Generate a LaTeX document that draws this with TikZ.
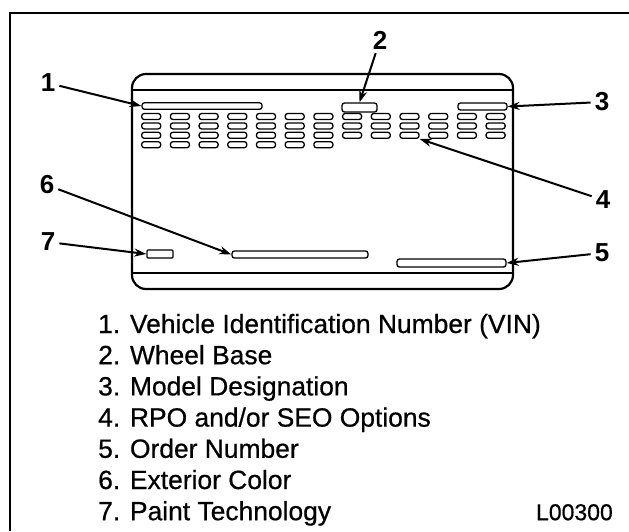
\documentclass[tikz,border=0pt]{standalone}
\usepackage{fontspec}
\setmainfont{Liberation Sans}
\usetikzlibrary{arrows.meta}
\begin{document}
\begin{tikzpicture}[x=1pt,y=-1pt,
  slot/.style={draw, line width=1.3pt, rounded corners=2.5pt, inner sep=0pt, minimum width=#1, minimum height=6.5pt},
  opt/.style={draw, line width=1.3pt, rounded corners=2.5pt, inner sep=0pt, minimum width=19pt, minimum height=6pt},
  callout/.style={font=\fontsize{26}{26}\selectfont\bfseries, inner sep=1pt},
  arr/.style={line width=2pt, -{Stealth[length=12pt,width=8pt]}, shorten <=3pt},
  legend/.style={font=\fontsize{26.4}{26.4}\selectfont\addfontfeature{FakeBold=0.6}, anchor=base west, inner sep=0pt}]
\useasboundingbox (0,0) rectangle (629,531);
% frame
\draw[line width=2.2pt] (10,531) -- (10,13) -- (629,13);
% card
\draw[line width=2.2pt, rounded corners=14pt] (132,74) rectangle (513,289);
\draw[line width=1.8pt] (132,90) -- (513,90);
\draw[line width=1.8pt] (132,273) -- (513,273);
% fields
\node[slot=120pt] (vin) at (202,106) {};
\node[slot=35pt, minimum height=9pt] (wb) at (359.5,107.5) {};
\node[slot=49pt, minimum height=7pt] (model) at (482.5,106.5) {};
\node[slot=136pt, minimum height=7pt] (color) at (300,254.5) {};
\node[slot=109pt, minimum height=8pt] (order) at (451.5,263) {};
\node[slot=26pt, minimum height=8pt, rounded corners=1pt] (paint) at (160,254) {};
% option slots
\foreach \i in {0,...,12}{
  \pgfmathtruncatemacro{\nr}{\i<7 ? 3 : 2}
  \foreach \j in {0,...,\nr}{
    \node[opt] (o-\i-\j) at ({151.2+28.7*\i},{116.5+9.4*\j}) {};
  }
}
% callouts
\node[callout] (l1) at (48,83) {1};
\node[callout] (l2) at (380,40) {2};
\node[callout] (l3) at (602,102) {3};
\node[callout] (l4) at (603,200) {4};
\node[callout] (l5) at (602,253) {5};
\node[callout] (l6) at (47,185) {6};
\node[callout] (l7) at (48,242) {7};
\draw[arr] (l1) -- (vin.west);
\draw[arr] (l2) -- (wb.north);
\draw[arr] (l3) -- (model.east);
\draw[arr] (l4) -- (o-9-2.south east);
\draw[arr] (l5) -- (order.east);
\draw[arr] (l6) -- (color.west);
\draw[arr] (l7) -- (paint.west);
% legend
\node[legend] (t1) at (98,333) {1. Vehicle Identification Number (VIN)};
\node[legend] (t2) at (98,364.2) {2. Wheel Base};
\node[legend] (t3) at (98,395.4) {3. Model Designation};
\node[legend] (t4) at (98,426.6) {4. RPO and/or SEO Options};
\node[legend] (t5) at (98,457.8) {5. Order Number};
\node[legend] (t6) at (98,489) {6. Exterior Color};
\node[legend] (t7) at (98,520.2) {7. Paint Technology};
\node[legend, font=\fontsize{23}{23}\selectfont\addfontfeature{FakeBold=0.6}, anchor=base east] (code) at (613,520.2) {L00300};
\end{tikzpicture}
\end{document}
